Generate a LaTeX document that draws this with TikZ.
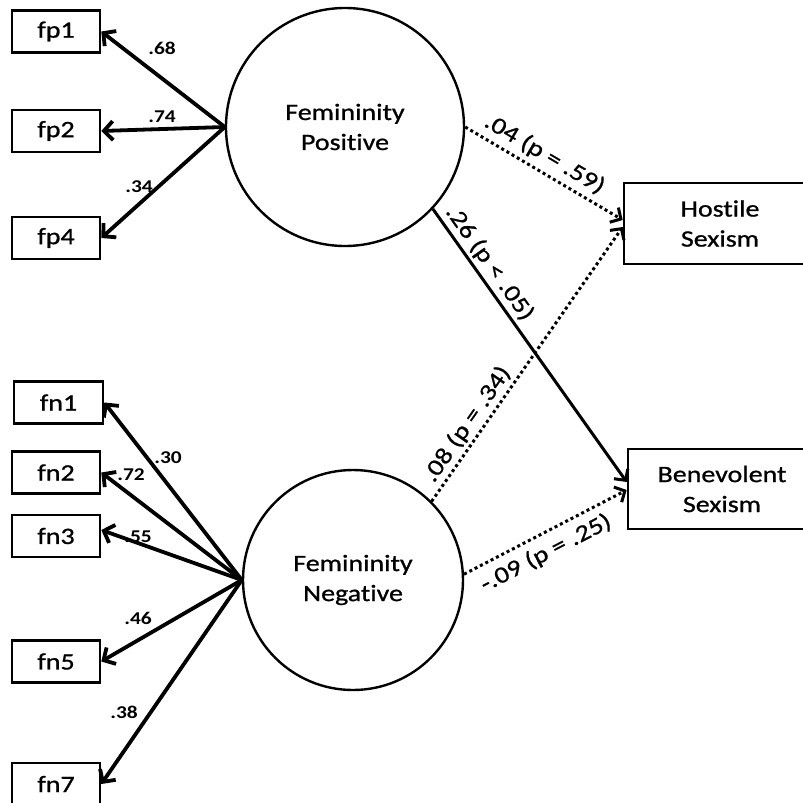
\documentclass[tikz,border=0pt]{standalone}
\usepackage{fontspec}
\setmainfont{Carlito}[FakeStretch=1.19, FakeBold=0.9, Ligatures=NoCommon]
\newfontfamily\loadfont{Carlito}[FakeStretch=1.19, Ligatures=NoCommon, UprightFont=*-Bold]
\usetikzlibrary{arrows.meta,calc}
\begin{document}
\begin{tikzpicture}[x=1pt,y=-1pt,
  indic/.style={draw, line width=2.6pt, minimum width=88pt, minimum height=42pt,
    inner sep=0pt, font=\fontsize{23.5}{28}\selectfont},
  latent/.style={draw, circle, line width=2.4pt, inner sep=0pt, align=center,
    font=\fontsize{23.5}{30}\selectfont},
  outcome/.style={draw, line width=2.6pt, minimum height=81pt, inner sep=0pt,
    align=center, font=\fontsize{23.5}{30}\selectfont},
  loading/.style={line width=3.8pt, -{Straight Barb[length=9pt,width=19pt]}},
  effect/.style={line width=3pt, -{Straight Barb[length=8pt,width=17pt]}},
  weak/.style={effect, dash pattern=on 3pt off 3pt},
  lval/.style={font=\loadfont\fontsize{18}{21}\selectfont, inner sep=0pt},
  pval/.style={font=\fontsize{23.5}{27}\selectfont, sloped, inner sep=3pt}
]
\clip (0,0) rectangle (803,803);
\useasboundingbox (0,0) rectangle (803,803);

% latent factors
\node[latent, minimum size=238pt] (fpos) at (345,127) {Femininity\\Positive};
\node[latent, minimum size=220pt] (fneg) at (353,580) {Femininity\\Negative};

% indicators
\node[indic] (fp1) at (56,31.5) {fp1};
\node[indic] (fp2) at (56,131) {fp2};
\node[indic] (fp4) at (56,238) {fp4};
\node[indic, minimum width=89pt] (fn1) at (58.5,402.5) {fn1};
\node[indic] (fn2) at (56,472.5) {fn2};
\node[indic] (fn3) at (56,536) {fn3};
\node[indic] (fn5) at (56,661.5) {fn5};
\node[indic] (fn7) at (56,784) {fn7};

% outcomes
\node[outcome, minimum width=192pt] (hs) at (720,223.5) {Hostile\\Sexism};
\node[outcome, minimum width=188pt, minimum height=80pt] (bs) at (722,489) {Benevolent\\Sexism};

% factor loadings
\draw[loading] (fpos.west) -- (fp1.east);
\draw[loading] (fpos.west) -- (fp2.east);
\draw[loading] (fpos.west) -- (fp4.east);
\draw[loading] (fneg.west) -- (fn1.east);
\draw[loading] (fneg.west) -- (fn2.east);
\draw[loading] (fneg.west) -- ($(fn3.east)+(0,-6)$);
\draw[loading] (fneg.west) -- (fn5.east);
\draw[loading] (fneg.west) -- (fn7.east);

\node[lval] (l1) at (162,48) {.68};
\node[lval] (l2) at (162,117) {.74};
\node[lval] (l4) at (139,187) {.34};
\node[lval] (n1) at (168,458) {.30};
\node[lval] (n2) at (131,475) {.72};
\node[lval] (n3) at (138,537) {.55};
\node[lval] (n5) at (138,618) {.46};
\node[lval] (n7) at (124,712) {.38};

% structural paths
\draw[weak] (fpos.east) -- node[pval, pos=0.45, above=2pt] {.04 (p = .59)} ($(hs.west)+(0,-3.5)$);
\draw[effect] (fpos.-43) -- node[pval, pos=0.23, above] {.26 (p < .05)} ($(bs.west)+(0,-7)$);
\draw[weak] (fneg.45) -- node[pval, pos=0.25, above] {.08 (p = .34)} ($(hs.west)+(0,3.5)$);
\draw[weak] (fneg.3) -- node[pval, pos=0.45, below=4pt] {-.09 (p = .25)} ($(bs.west)+(0,1)$);
\end{tikzpicture}
\end{document}
